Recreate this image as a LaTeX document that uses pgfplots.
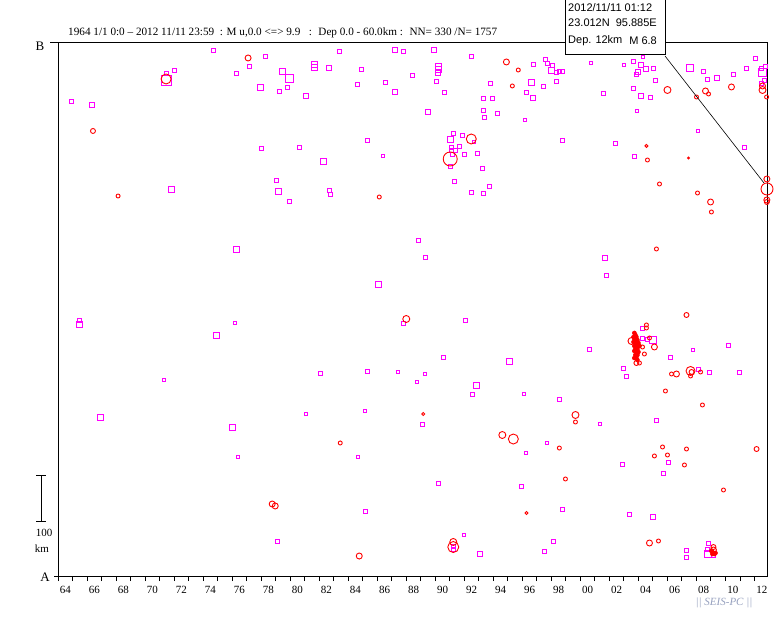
\documentclass[border=0pt]{standalone}
\usepackage{fontspec}
\setmainfont{Liberation Serif}
\newfontfamily\boxfont{Liberation Sans}
\usepackage{pgfplots}
\usepackage{pgfplotstable}
\pgfplotsset{compat=1.18}
\definecolor{seis}{RGB}{150,160,190}
\definecolor{mg}{RGB}{255,0,255}
\definecolor{rd}{RGB}{255,0,0}

% year, distance from A (km), half mark size (pt) ~ magnitude
\pgfplotstableread{
x y s
1974.69 1168.9 2
1978.28 1155.6 2
1972.00 1124.4 2
1971.45 1117.8 2
1971.45 1102.2 5
1977.17 1133.3 2
1976.28 1117.8 2
1979.45 1122.2 3
1979.93 1106.7 4
1977.93 1086.7 3
1979.24 1077.8 2
1979.79 1086.7 2
1964.90 1055.6 2
1966.34 1046.7 2.5
1978.00 951.1 2
1980.62 953.3 2
1979.03 880.0 2
1979.17 855.6 3
1979.93 833.3 2
1971.79 860.0 3
1983.38 1166.7 2
1987.24 1168.9 2.5
1987.79 1166.7 2
1989.93 1168.9 2.5
1981.66 1137.8 3
1981.66 1131.1 3
1982.69 1128.9 2.5
1984.90 1126.7 2
1990.21 1133.3 3
1990.21 1126.7 3
1990.21 1117.8 2.5
1992.48 1155.6 2
1996.76 1137.8 2
1997.59 1148.9 2
1997.72 1140.0 2
1998.07 1135.6 2
1998.00 1124.4 3
1998.34 1120.0 2
1998.55 1122.2 2
1988.41 1113.3 2
1984.62 1093.3 2
1986.55 1097.8 2
1990.07 1100.0 2
1993.79 1095.6 2
1996.62 1097.8 3
1997.45 1088.9 2
1998.34 1100.0 2
1981.10 1066.7 2.5
1987.24 1075.6 2.5
1990.62 1075.6 2
1993.31 1062.2 2
1993.93 1062.2 2
1996.28 1075.6 2
1996.76 1062.2 2.5
1989.52 1031.1 2.5
1993.31 1035.6 2
1993.38 1020.0 2
1994.28 1028.9 2
1996.21 1013.3 1.5
1991.24 984.4 2
1991.86 980.0 2
1991.03 971.1 3
1992.69 964.4 1.5
1991.66 955.6 2
1991.10 953.3 2
1991.10 946.7 2
1991.38 946.7 2
1991.17 937.8 2
1991.03 911.1 2
1992.00 937.8 2
1992.90 940.0 2
1993.24 906.7 2
1991.31 877.8 2
1992.48 853.3 2
1993.31 851.1 2
1993.72 866.7 2
1985.31 968.9 2
1986.41 933.3 1.5
1982.28 922.2 3
1982.69 857.8 2
1982.76 848.9 2
2000.76 1140.0 1.5
2002.97 1135.6 1.5
2003.66 1144.4 2
2004.34 1153.3 1.5
2004.14 1135.6 2.5
2004.00 1120.0 2.5
2003.86 1115.6 2
2004.55 1126.7 2.5
2005.03 1128.9 2
2005.17 1102.2 2
2003.66 1084.4 2
2001.59 1073.3 2
2004.14 1066.7 2.5
2004.83 1064.4 2
2007.52 1128.9 3.5
2008.48 1122.2 2
2008.76 1104.4 2
2009.38 1106.7 2.5
2010.55 1115.6 2
2011.45 1128.9 2
2012.07 1151.1 2
2012.76 1133.3 2
2012.55 1120.0 4
2012.48 1128.9 2
2012.69 1102.2 2
2012.48 1095.6 2
2003.93 1033.3 1.5
1998.76 1122.2 2
1998.76 968.9 2
2002.41 962.2 2
2003.72 933.3 2
2008.07 988.9 1.5
2011.31 953.3 2
1976.28 726.7 3
1965.45 568.9 2
1965.45 560.0 3
1976.21 562.2 1.5
1974.90 535.6 3
1971.31 435.6 1.5
1966.90 353.3 3
1976.00 331.1 3
1981.10 360.0 1.5
1976.41 264.4 1.5
1988.83 746.7 2
1989.31 708.9 2
1986.07 648.9 3
1987.79 562.2 2
1992.07 568.9 2
1990.55 486.7 2
1995.10 477.8 3
1982.07 451.1 2
1985.31 455.6 2
1987.45 453.3 1.5
1989.31 448.9 1.5
1988.76 431.1 1.5
1992.83 424.4 3
1992.55 404.4 2
1996.14 404.4 1.5
1998.55 393.3 2
1985.17 366.7 1.5
1989.10 337.8 2
1984.69 264.4 1.5
1997.72 295.6 1.5
1996.28 273.3 1.5
2004.28 551.1 2
2004.28 528.9 2
2004.62 526.7 2
2005.03 524.4 3.5
2001.66 706.7 2.5
2001.79 668.9 2
2000.62 504.4 2
2002.97 462.2 2
2003.17 444.4 2
2006.21 486.7 2
2007.79 502.2 1.5
2010.21 513.3 2
2008.14 460.0 2
2008.90 453.3 2
2010.97 453.3 2
2001.38 337.8 1.5
2005.24 346.7 2
2002.90 248.9 2
2006.07 253.3 2
2008.83 73.3 2
2008.76 60.0 2
2008.76 48.9 3.5
2009.17 46.7 2
1990.21 206.7 2
1995.93 200.0 2
1992.00 91.1 1.5
1991.24 66.7 2
1991.24 60.0 2
1993.10 48.9 2.5
1997.52 55.6 2
1998.14 77.8 2
2005.72 228.9 2
1998.76 148.9 2
2003.38 137.8 2
2005.03 131.1 2.5
2007.31 57.8 2
2007.31 42.2 2
1985.17 144.4 2
1979.10 77.8 2
}\sqdata

\pgfplotstableread{
x y s
1977.10 1151.1 3
1971.45 1104.4 5
1966.41 988.9 2.5
1968.14 844.4 2
1994.90 1142.2 3
1995.72 1124.4 2
1995.31 1088.9 2
1992.48 971.1 5
1991.03 926.7 7
1986.14 842.2 2
2006.00 1080.0 3.5
2008.62 1077.8 3
2008.83 1071.1 2
2010.41 1086.7 3
2008.00 1064.4 2
2012.55 1088.9 3
2012.55 1080.0 3.5
2012.83 1064.4 2
2004.55 955.6 1.5
2004.62 924.4 2
2007.45 928.9 1
2005.45 871.1 2
2008.07 851.1 2
2008.97 831.1 3
2009.03 808.9 2
2012.85 882.2 3
2012.86 860.0 6
2012.85 835.6 3
2012.85 831.1 2.5
1988.00 571.1 3.5
1989.17 360.0 1.5
1983.45 295.6 2
1994.62 313.3 3.5
1995.38 304.4 5
1998.55 284.4 2
2005.24 726.7 2
2007.31 580.0 2.5
2004.55 557.8 2
2004.55 551.1 2
2004.76 528.9 2
2004.28 508.9 2
2005.10 508.9 3
2004.41 493.3 2
2003.86 473.3 2.5
2004.07 473.3 2
2003.52 522.2 3.5
2006.28 448.9 2
2006.62 448.9 3
2007.59 455.6 4.5
2007.59 444.4 2
2007.66 453.3 2.5
2008.28 453.3 2
2005.86 411.1 2
2008.41 380.0 2
1999.66 357.8 3.5
1999.66 342.2 2
2005.66 286.7 2
2005.10 266.7 2
2006.00 268.9 2
2007.31 282.2 2
2012.14 282.2 2.5
2007.17 246.7 2
2009.86 191.1 2
1998.97 215.6 2
1996.28 140.0 1.5
2004.76 73.3 3
2005.38 77.8 2
2009.17 64.4 2.5
2009.17 57.8 3
1991.24 75.6 3.5
1991.24 64.4 5.5
1978.76 160.0 3
1978.97 155.6 3
1984.76 44.4 3
}\cidata

% dense swarm of small events (drawn filled)
\pgfplotstableread{
x y
2003.72 540.0
2003.79 535.6
2003.66 531.1
2003.86 531.1
2003.72 526.7
2003.93 524.4
2003.66 520.0
2003.79 517.8
2004.00 517.8
2003.72 511.1
2003.86 511.1
2004.07 511.1
2003.79 504.4
2003.93 504.4
2003.72 500.0
2003.86 497.8
2004.00 497.8
2003.79 491.1
2003.93 491.1
2003.86 484.4
2003.72 484.4
2003.93 480.0
2009.03 55.6
2009.10 53.3
2009.17 51.1
2009.24 48.9
2009.10 48.9
2009.31 51.1
}\swarm

\begin{document}
\begin{tikzpicture}[x=1pt,y=1pt]
\path[use as bounding box] (0,0) rectangle (783,618);
\begin{axis}[
  at={(58pt,42pt)}, anchor=south west, scale only axis,
  width=709pt, height=533pt,
  xmin=1964, xmax=2012.86, ymin=0, ymax=1184.4,
  axis line style={line width=1pt, black},
  ytick=\empty,
  xtick={1964.5,1966.5,...,2012.5},
  xticklabels={64,66,68,70,72,74,76,78,80,82,84,86,88,90,92,94,96,98,00,02,04,06,08,10,12},
  minor xtick={1964,1965,...,2012},
  xtick pos=left,
  major tick length=0pt, minor tick length=5pt, tick align=outside,
  tick style={black, line width=1pt},
  xticklabel style={font=\fontsize{11}{12}\selectfont, yshift=-6.5pt},
  /pgf/number format/assume math mode=true,
  unbounded coords=discard,
  clip=false,
]
\pgfplotsinvokeforeach{1.5,2,2.5,3,3.5,4,5}{
  \addplot[only marks, mark=square, mark size=#1pt, color=mg,
    mark options={draw=mg, fill=none, line width=0.9pt},
    x filter/.expression={abs(\thisrow{s}-#1)<0.01 ? x : nan}]
    table[x=x, y=y] {\sqdata};
}
\addplot[only marks, mark=*, mark size=2pt, color=rd,
  mark options={draw=rd, fill=rd, line width=0.6pt}]
  table[x=x, y=y] {\swarm};
\pgfplotsinvokeforeach{1,1.5,2,2.5,3,3.5,4.5,5,5.5,6,7}{
  \addplot[only marks, mark=o, mark size=#1pt, color=rd,
    mark options={draw=rd, fill=none, line width=0.9pt},
    x filter/.expression={abs(\thisrow{s}-#1)<0.01 ? x : nan}]
    table[x=x, y=y] {\cidata};
}
\end{axis}
% frame extensions and end labels
\draw[line width=1pt] (50,575) -- (58,575);
\draw[line width=1pt] (54,42) -- (58,42);
\node[font=\fontsize{13}{13}\selectfont] at (40,572) {B};
\node[font=\fontsize{13}{13}\selectfont] at (45,41) {A};
% scale bar
\draw[line width=1pt] (41,142) -- (41,97);
\draw[line width=1pt] (36,142) -- (46,142);
\draw[line width=1pt] (36,97) -- (46,97);
\node[font=\fontsize{11}{11}\selectfont] at (44,85) {100};
\node[font=\fontsize{11}{11}\selectfont] at (42,69) {km};
% title
\node[anchor=west, inner sep=0pt, font=\fontsize{11.2}{12}\selectfont] at (68,585)
  {1964 1/1 0:0 -- 2012 11/11 23:59 \ : M u,0.0 <=> 9.9 \ \ : \ Dep 0.0 - 60.0km : \ NN= 330 /N= 1757};
% annotation of largest event
\draw[line width=0.6pt] (665,562) -- (764,435);
\draw[line width=1pt, fill=white] (565,563) rectangle (665,621);
\node[anchor=west, inner sep=0pt, font=\boxfont\fontsize{11}{11}\selectfont] at (568,610.5) {2012/11/11 01:12};
\node[anchor=west, inner sep=0pt, font=\boxfont\fontsize{11}{11}\selectfont] at (568,595.5) {23.012N};
\node[anchor=east, inner sep=0pt, font=\boxfont\fontsize{11}{11}\selectfont] at (657,595.5) {95.885E};
\node[anchor=west, inner sep=0pt, font=\boxfont\fontsize{11}{11}\selectfont] at (568,577) {Dep. 12km};
\node[anchor=east, inner sep=0pt, font=\boxfont\fontsize{11}{11}\selectfont] at (657,577) {M 6.8};
% credit
\node[font=\itshape\fontsize{11}{11}\selectfont, text=seis] at (724,15) {|| SEIS-PC ||};
\end{tikzpicture}
\end{document}
